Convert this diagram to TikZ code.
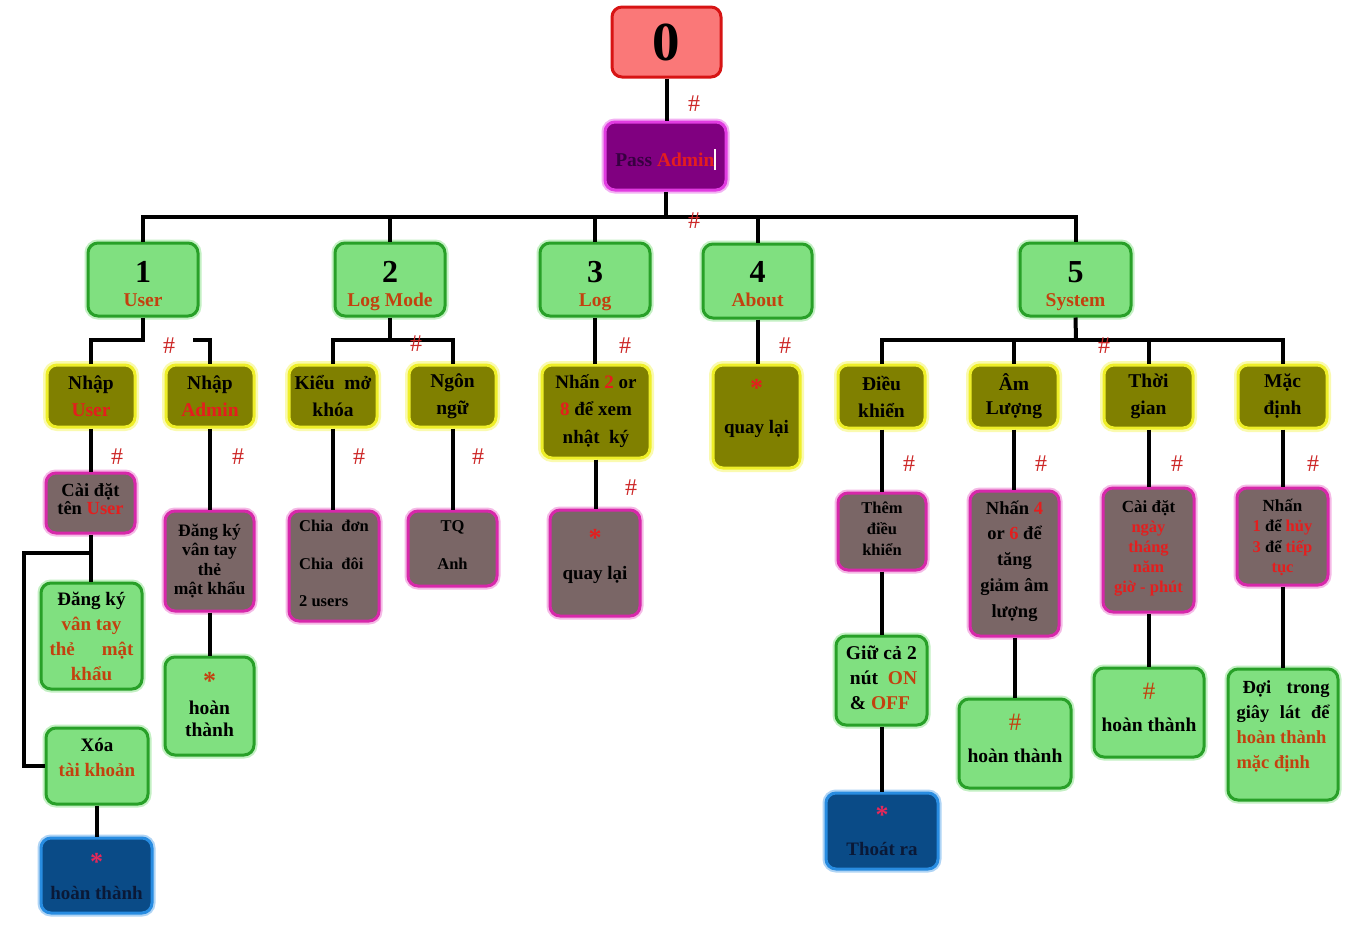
\documentclass[tikz,border=0pt]{standalone}
\usepackage{fontspec}
\setmainfont{Liberation Serif}
\definecolor{gfill}{RGB}{128,224,128}
\definecolor{gline}{RGB}{40,160,40}
\definecolor{gglow}{RGB}{195,240,195}
\definecolor{ofill}{RGB}{128,128,0}
\definecolor{oline}{RGB}{238,238,40}
\definecolor{oglow}{RGB}{250,250,175}
\definecolor{mfill}{RGB}{122,102,102}
\definecolor{mline}{RGB}{215,40,170}
\definecolor{mglow}{RGB}{245,185,230}
\definecolor{bfill}{RGB}{10,75,135}
\definecolor{bline}{RGB}{40,140,225}
\definecolor{bglow}{RGB}{175,212,245}
\definecolor{btext}{RGB}{10,25,55}
\definecolor{zfill}{RGB}{250,120,120}
\definecolor{zline}{RGB}{215,20,20}
\definecolor{pfill}{RGB}{128,0,128}
\definecolor{pline}{RGB}{225,60,225}
\definecolor{ptext}{RGB}{55,0,65}
\definecolor{redt}{RGB}{228,30,30}
\definecolor{brn}{RGB}{195,65,15}
\definecolor{hashc}{RGB}{205,40,40}
\definecolor{starb}{RGB}{230,40,90}
\tikzset{
  basebox/.style={rounded corners=10pt, line width=3pt, align=center, inner sep=0pt,
    font=\bfseries\fontsize{19.5}{27}\selectfont, text=black},
  greenbox/.style={basebox, fill=gfill, draw=gline, preaction={draw=gglow, line width=7pt}},
  olivebox/.style={basebox, fill=ofill, draw=oline, preaction={draw=oglow, line width=8pt}},
  mauvebox/.style={basebox, fill=mfill, draw=mline, preaction={draw=mglow, line width=7pt}},
  bluebox/.style={basebox, fill=bfill, draw=bline, text=btext, preaction={draw=bglow, line width=7pt}},
  zerobox/.style={basebox, fill=zfill, draw=zline},
  passbox/.style={basebox, fill=pfill, draw=pline, preaction={draw=pline!40, line width=7pt}},
  conn/.style={draw=black, line width=4pt},
  hashlbl/.style={text=hashc, font=\fontsize{24}{24}\selectfont, inner sep=0pt},
  bw/.style 2 args={minimum width=#1pt, minimum height=#2pt},
  tp/.style 2 args={text height=#1pt, text depth=#2pt},
  fs/.style 2 args={font=\bfseries\fontsize{#1}{#2}\selectfont},
}
\newcommand{\lvlone}[2]{{\fontsize{32}{24}\selectfont #1}\\\textcolor{brn}{#2}}
\newcommand{\stx}[1]{{\fontsize{26}{26}\selectfont\textcolor{#1}{*}}}
\newcommand{\hsx}{{\mdseries\fontsize{25}{25}\selectfont\textcolor{brn}{\#}}}
\begin{document}
\begin{tikzpicture}[x=1pt,y=-1pt]
\useasboundingbox (0,0) rectangle (1365,929);
\fill[white] (0,0) rectangle (1365,929);

% top
\node[zerobox, bw={109}{70}, fs={55}{55}] (n0) at (666.5,42) {0};
\node[passbox, bw={121}{68}, fs={19.5}{22}, tp={30}{10}] (pa) at (665.5,156)
  {\textcolor{ptext}{Pass} \textcolor{redt}{Admin}\textcolor{white!85!pink}{\rule[-4pt]{1.2pt}{21pt}}};

% level 1
\node[greenbox, bw={110}{73}, fs={19.5}{24}, tp={56.5}{3.5}] (n1) at (143,279.5) {\lvlone{1}{User}};
\node[greenbox, bw={110}{73}, fs={19.5}{24}, tp={56.5}{3.5}] (n2) at (390,279.5) {\lvlone{2}{Log Mode}};
\node[greenbox, bw={110}{73}, fs={19.5}{24}, tp={56.5}{3.5}] (n3) at (595,279.5) {\lvlone{3}{Log}};
\node[greenbox, bw={109}{74}, fs={19.5}{24}, tp={55}{5}] (n4) at (757.5,281) {\lvlone{4}{About}};
\node[greenbox, bw={111}{73}, fs={19.5}{24}, tp={56.5}{3.5}] (n5) at (1075.5,279.5) {\lvlone{5}{System}};

% User branch
\node[olivebox, bw={88}{62}] (nu) at (91,396) {Nhập\\\textcolor{redt}{User}};
\node[olivebox, bw={88}{62}] (na) at (210,396) {Nhập\\\textcolor{redt}{Admin}};
\node[mauvebox, bw={89}{60}, fs={18.5}{18}, tp={31}{9}] (cd) at (90.5,503) {Cài đặt\\tên \textcolor{redt}{User}};
\node[greenbox, bw={101}{106}, fs={19}{25}] (dk) at (91.5,636)
  {Đăng ký\\\textcolor{brn}{vân tay}\\\textcolor{brn}{\makebox[84pt][s]{thẻ mật}}\\\textcolor{brn}{khẩu}};
\node[greenbox, bw={102}{76}, fs={19}{25}, tp={35}{15}] (xoa) at (97,766) {Xóa\\\textcolor{brn}{tài khoản}};
\node[bluebox, bw={111}{75}, fs={19}{29}, tp={53.5}{6.5}] (bh1) at (96.5,875.5) {\stx{starb}\\hoàn thành};
\node[mauvebox, bw={89}{100}, fs={17.5}{19.5}] (dka) at (209.5,561) {Đăng ký\\vân tay\\thẻ\\mật khẩu};
\node[greenbox, bw={89}{98}, fs={19.5}{22}, tp={65}{5}] (ht1) at (209.5,706) {\stx{brn}\\[3pt]hoàn\\thành};

% Log Mode branch
\node[olivebox, bw={88}{62}] (km) at (333,396) {Kiểu~ mở\\khóa};
\node[olivebox, bw={87}{62}] (nn) at (452.5,396) {Ngôn\\ngữ};
\node[mauvebox, bw={90}{110}, fs={16.5}{37.5}, align=left, tp={85.5}{4.5}] (cdn) at (334,566) {Chia~ đơn\\Chia~ đôi\\2 users};
\node[mauvebox, bw={89}{75}, fs={16.5}{38}, tp={46}{4}] (tq) at (452.5,548.5) {TQ\\Anh};

% Log branch
\node[olivebox, bw={108}{93}, fs={19}{27.5}, tp={66.5}{3.5}] (nhk) at (596,411.5)
  {Nhấn \textcolor{redt}{2} or\\\textcolor{redt}{8} để xem\\nhật~ ký};
\node[mauvebox, bw={90}{106}, fs={19}{33}, tp={41}{9}] (ql3) at (595,563) {\stx{redt}\\quay lại};

% About branch
\node[olivebox, bw={87}{103}, fs={19}{37}, tp={41.5}{8.5}] (ql4) at (756.5,416.5) {\stx{redt}\\quay lại};

% System branch
\node[olivebox, bw={87}{63}] (dkh) at (881.5,396.5) {Điều\\khiển};
\node[olivebox, bw={88}{63}, fs={19.5}{24}] (al) at (1014,396.5) {Âm\\Lượng};
\node[olivebox, bw={89}{63}] (tg) at (1148.5,396.5) {Thời\\gian};
\node[olivebox, bw={89}{63}] (md) at (1282.5,396.5) {Mặc\\định};

\node[mauvebox, bw={88}{77}, fs={16.5}{21}, tp={53.5}{6.5}] (tdk) at (882,531.5) {Thêm\\điều\\khiển};
\node[mauvebox, bw={89}{145}, fs={18.5}{25.75}, tp={113.5}{6.5}] (n46) at (1014.5,563.5)
  {Nhấn \textcolor{redt}{4}\\or \textcolor{redt}{6} để\\tăng\\giảm âm\\lượng};
\node[mauvebox, bw={91}{124}, fs={16.5}{20}, tp={92.5}{7.5}] (cdt) at (1148.5,550)
  {{\fontsize{17}{20}\selectfont Cài đặt}\\\textcolor{redt}{ngày}\\\textcolor{redt}{tháng}\\\textcolor{redt}{năm}\\\textcolor{redt}{giờ - phút}};
\node[mauvebox, bw={91}{97}, fs={16.5}{20.5}, tp={76}{4}] (n13) at (1282.5,536.5)
  {{\fontsize{17}{20}\selectfont Nhấn}\\\textcolor{redt}{1} để \textcolor{redt}{hủy}\\\textcolor{redt}{3} để \textcolor{redt}{tiếp}\\\textcolor{redt}{tục}};
\node[greenbox, bw={91}{89}, fs={19.5}{25}, align=left, tp={63.5}{6.5}] (giu) at (881.5,680.5)
  {\makebox[71pt][s]{Giữ cả 2}\\\hspace*{4pt}nút~ \textcolor{brn}{ON}\\\hspace*{4pt}\& \textcolor{brn}{OFF}};
\node[bluebox, bw={112}{76}, fs={19}{32}, tp={54}{6}] (thoat) at (882,831) {\stx{starb}\\Thoát ra};
\node[greenbox, bw={112}{89}, fs={19.5}{31.5}, tp={43.5}{6.5}] (ht4) at (1015,743.5) {\hsx\\hoàn thành};
\node[greenbox, bw={110}{89}, fs={19.5}{31.5}, tp={43.5}{6.5}] (ht5) at (1149,712.5) {\hsx\\hoàn thành};
\node[greenbox, bw={110}{131}, fs={18.5}{25}, align=left, tp={73.5}{6.5}] (doi) at (1283,734.5)
  {\makebox[93pt][s]{\hspace*{6pt}Đợi trong}\\\makebox[93pt][s]{giây lát để}\\\textcolor{brn}{hoàn thành}\\\textcolor{brn}{mặc định}};

% coordinates
\coordinate (bus0) at (666,217);
\coordinate (busU) at (143,340);
\coordinate (busUr) at (193,340);
\coordinate (busL) at (390,340);
\coordinate (busS) at (1076,340);
\coordinate (lp1) at (91,553);
\coordinate (lp2) at (24,553);

% connectors
\draw[conn] (n0.south) -- (n0.south |- pa.north);
\draw[conn] (pa.south) -- (pa.south |- bus0);
\draw[conn] (n1.north) -- (n1.north |- bus0) -- (n5.north |- bus0) -- (n5.north);
\draw[conn] (n2.north) -- (n2.north |- bus0);
\draw[conn] (n3.north) -- (n3.north |- bus0);
\draw[conn] (n4.north) -- (n4.north |- bus0);

\draw[conn] (n1.south) -- (busU) -| (nu.north);
\draw[conn] (busUr) -| (na.north);
\draw[conn] (nu.south) -- (nu.south |- cd.north);
\draw[conn] (cd.south) -- (cd.south |- dk.north);
\draw[conn] (lp1) -- (lp2) |- (xoa.west);
\draw[conn] (xoa.south) -- (xoa.south |- bh1.north);
\draw[conn] (na.south) -- (na.south |- dka.north);
\draw[conn] (dka.south) -- (dka.south |- ht1.north);

\draw[conn] (n2.south) -- (busL);
\draw[conn] (km.north) |- (busL) -| (nn.north);
\draw[conn] (km.south) -- (km.south |- cdn.north);
\draw[conn] (nn.south) -- (nn.south |- tq.north);

\draw[conn] (n3.south) -- (n3.south |- nhk.north);
\draw[conn] (nhk.south) -- (nhk.south |- ql3.north);
\draw[conn] (n4.south) -- (n4.south |- ql4.north);

\draw[conn] (n5.south) -- (busS);
\draw[conn] (dkh.north) |- (busS) -| (md.north);
\draw[conn] (al.north) -- (al.north |- busS);
\draw[conn] (tg.north) -- (tg.north |- busS);
\draw[conn] (dkh.south) -- (dkh.south |- tdk.north);
\draw[conn] (al.south) -- (al.south |- n46.north);
\draw[conn] (tg.south) -- (tg.south |- cdt.north);
\draw[conn] (md.south) -- (md.south |- n13.north);
\draw[conn] (tdk.south) -- (tdk.south |- giu.north);
\draw[conn] (giu.south) -- (giu.south |- thoat.north);
\draw[conn] (n46.south) -- (n46.south |- ht4.north);
\draw[conn] (cdt.south) -- (cdt.south |- ht5.north);
\draw[conn] (n13.south) -- (n13.south |- doi.north);

% hash labels
\node[hashlbl] (h1) at (694,104) {\#};
\node[hashlbl] (h2) at (694,221) {\#};
\node[hashlbl] (h3) at (169,346) {\#};
\node[hashlbl] (h4) at (416,344) {\#};
\node[hashlbl] (h5) at (625,346) {\#};
\node[hashlbl] (h6) at (785,346) {\#};
\node[hashlbl] (h7) at (1104,346) {\#};
\node[hashlbl] (h8) at (117,457) {\#};
\node[hashlbl] (h9) at (238,457) {\#};
\node[hashlbl] (h10) at (359,457) {\#};
\node[hashlbl] (h11) at (478,457) {\#};
\node[hashlbl] (h12) at (631,488) {\#};
\node[hashlbl] (h13) at (909,464) {\#};
\node[hashlbl] (h14) at (1041,464) {\#};
\node[hashlbl] (h15) at (1177,464) {\#};
\node[hashlbl] (h16) at (1313,464) {\#};
\end{tikzpicture}
\end{document}
